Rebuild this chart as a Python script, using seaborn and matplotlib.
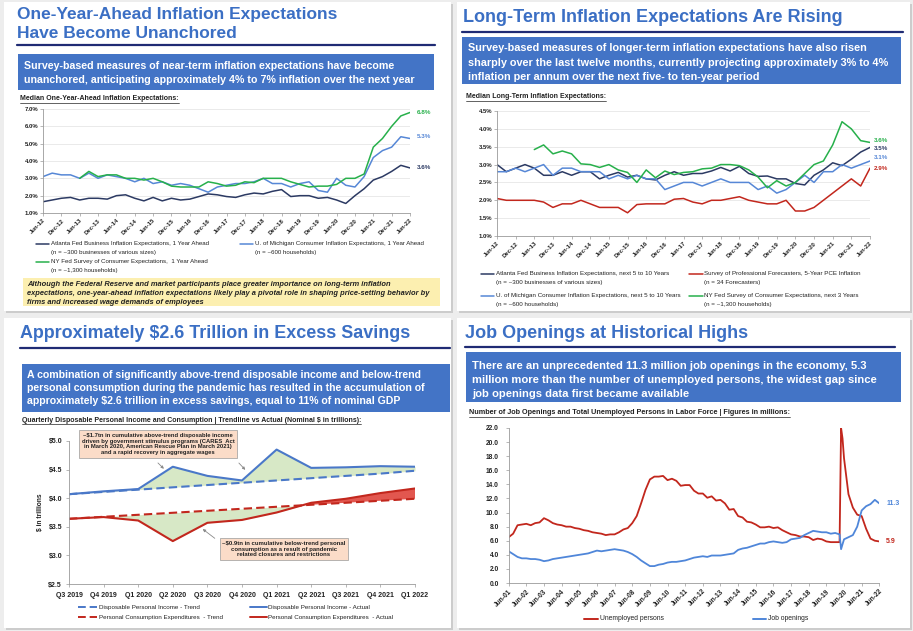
import numpy as np
import pandas as pd
import matplotlib.pyplot as plt
import matplotlib.ticker as mticker
from matplotlib.lines import Line2D
from matplotlib.patches import Rectangle
import seaborn as sns

sns.set_theme(style="white")
plt.rcParams['font.family'] = ['Liberation Sans', 'DejaVu Sans']

# ---------------------------------------------------------------
# Data
# ---------------------------------------------------------------
# quarterly points Jun-12 .. Jun-22, ticks every half year
half_year_ticks = ["Jun-12", "Dec-12", "Jun-13", "Dec-13", "Jun-14", "Dec-14", "Jun-15",
                   "Dec-15", "Jun-16", "Dec-16", "Jun-17", "Dec-17", "Jun-18", "Dec-18",
                   "Jun-19", "Dec-19", "Jun-20", "Dec-20", "Jun-21", "Dec-21", "Jun-22"]

# one-year-ahead expectations (%)
atl_1y = [1.65, 1.75, 1.85, 1.9, 1.75, 1.85, 1.85, 1.8, 2.0, 2.05, 1.85, 1.7, 1.9, 1.7,
          1.85, 1.75, 1.8, 1.95, 2.1, 2.05, 1.95, 1.9, 2.05, 2.15, 2.1, 2.25, 2.35, 1.95,
          2.0, 2.0, 1.85, 1.9, 1.75, 1.55, 2.0, 2.4, 2.9, 3.1, 3.4, 3.75, 3.6]
mich_1y = [3.1, 3.3, 3.2, 3.2, 3.0, 3.3, 3.0, 3.2, 3.1, 3.0, 2.8, 3.0, 2.7, 2.8, 2.6, 2.7,
           2.6, 2.4, 2.2, 2.5, 2.6, 2.7, 2.7, 2.8, 3.0, 2.7, 2.7, 2.5, 2.7, 2.8, 2.3, 2.2,
           3.0, 2.6, 2.5, 3.1, 4.2, 4.6, 4.8, 5.4, 5.3]
ny_1y = [np.nan] * 4 + [3.0, 3.4, 3.1, 3.2, 3.2, 3.0, 3.0, 2.9, 3.0, 2.8, 2.55, 2.5, 2.5,
                        2.5, 2.8, 2.7, 2.55, 2.6, 2.8, 2.75, 3.0, 3.0, 3.0, 2.8, 2.65, 2.5,
                        2.55, 2.55, 2.65, 3.0, 3.0, 3.25, 4.8, 5.3, 6.0, 6.6, 6.8]

# long-term expectations (%)
atl_lt = [3.0, 2.8, 2.9, 3.0, 2.9, 2.7, 2.7, 2.8, 2.7, 2.8, 2.8, 2.6, 2.7, 2.78, 2.65, 2.7,
          2.6, 2.57, 2.7, 2.8, 2.7, 2.75, 2.75, 2.82, 2.92, 2.82, 2.95, 2.75, 2.67, 2.68,
          2.6, 2.6, 2.47, 2.43, 2.7, 2.85, 3.05, 2.97, 3.15, 3.35, 3.48]
mich_lt = [2.8, 2.8, 2.9, 2.8, 2.9, 3.0, 2.7, 2.9, 2.9, 2.8, 2.8, 2.8, 2.6, 2.7, 2.6, 2.7,
           2.6, 2.6, 2.3, 2.4, 2.5, 2.5, 2.4, 2.5, 2.6, 2.5, 2.5, 2.5, 2.3, 2.4, 2.2, 2.3,
           2.5, 2.7, 2.5, 2.8, 2.8, 3.0, 2.9, 3.0, 3.1]
spf_lt = [2.05, 2.0, 2.0, 2.0, 2.0, 1.95, 1.8, 1.9, 1.9, 2.0, 1.9, 1.8, 1.8, 1.8, 1.65, 1.88,
          1.9, 1.9, 1.9, 2.03, 2.05, 1.95, 1.9, 2.0, 2.0, 2.05, 2.1, 2.0, 1.95, 1.9, 1.9,
          2.0, 1.7, 1.7, 1.8, 2.0, 2.2, 2.4, 2.6, 2.4, 2.9]
ny_3y = [np.nan] * 4 + [3.42, 3.55, 3.3, 3.38, 3.3, 3.02, 3.0, 2.92, 3.0, 2.85, 2.78, 2.5,
                        2.85, 2.63, 2.82, 2.72, 2.78, 2.8, 2.88, 2.9, 3.0, 3.0, 2.97, 2.85,
                        2.65, 2.35, 2.55, 2.4, 2.5, 2.75, 3.0, 3.1, 3.55, 4.2, 4.0, 3.67, 3.62]

# excess savings ($ trillions)
savings_quarters = ["Q3 2019", "Q4 2019", "Q1 2020", "Q2 2020", "Q3 2020", "Q4 2020",
                    "Q1 2021", "Q2 2021", "Q3 2021", "Q4 2021", "Q1 2022"]
dpi_actual = [4.07, 4.12, 4.16, 4.55, 4.39, 4.31, 4.85, 4.53, 4.54, 4.56, 4.55]
dpi_trend = [4.07, 4.11, 4.15, 4.19, 4.23, 4.27, 4.31, 4.35, 4.39, 4.43, 4.48]
pce_actual = [3.64, 3.67, 3.61, 3.25, 3.57, 3.62, 3.75, 3.92, 3.99, 4.09, 4.17]
pce_trend = [3.64, 3.675, 3.71, 3.745, 3.78, 3.815, 3.85, 3.885, 3.92, 3.955, 3.99]

# job openings vs unemployed (millions), quarterly plus the spring 2020 months
jobs_dates = pd.date_range("2001-06-01", "2022-06-01", freq="3MS").union(
    pd.to_datetime(["2020-04-01", "2020-05-01"]))
unemployed = [6.5, 7.0, 8.2,
              8.3, 8.4, 8.2, 8.5, 8.6, 9.2, 8.9, 8.5, 8.3, 8.2, 8.0, 8.0,
              7.8, 7.7, 7.5, 7.4, 7.2, 7.1, 7.0, 6.8, 6.9, 6.9, 7.2, 7.6,
              7.8, 8.5, 9.5, 11.3, 13.2, 14.7, 15.1, 15.1, 15.2, 14.6, 14.8, 14.5,
              13.8, 13.9, 13.9, 13.1, 12.7, 12.7, 12.1, 12.3, 11.7, 11.8, 11.3, 10.4,
              10.5, 9.5, 9.3, 8.7, 8.6, 8.3, 7.9, 7.9, 8.0, 7.8, 7.9, 7.5,
              7.2, 6.9, 6.8, 6.6, 6.6, 6.5, 6.1, 6.3, 6.2, 5.9, 5.8, 5.8,
              5.8, 22.0, 20.5, 17.7, 12.6, 10.7, 9.7, 9.5, 7.7, 6.3, 6.0, 5.9]
job_openings = [4.5, 4.1, 3.7,
                3.5, 3.5, 3.4, 3.4, 3.3, 3.1, 3.2, 3.4, 3.5, 3.6, 3.7, 3.8,
                3.9, 4.0, 4.1, 4.2, 4.4, 4.6, 4.5, 4.6, 4.7, 4.8, 4.7, 4.6,
                4.4, 4.1, 3.7, 3.2, 2.8, 2.4, 2.4, 2.6, 2.7, 2.9, 3.0, 3.0,
                3.1, 3.2, 3.4, 3.6, 3.7, 3.8, 3.7, 3.9, 3.9, 3.9, 4.0, 4.1,
                4.2, 4.7, 4.9, 5.0, 5.2, 5.4, 5.6, 5.6, 5.8, 5.9, 5.8, 5.7,
                5.8, 6.2, 6.3, 6.4, 6.8, 7.1, 7.4, 7.3, 7.2, 7.2, 7.0, 7.1,
                6.9, 4.8, 5.5, 6.2, 6.5, 6.8, 8.0, 10.3, 10.9, 11.2, 11.8, 11.3]

# ---------------------------------------------------------------
# Colours
# ---------------------------------------------------------------
TITLE_BLUE = "#3b6fc4"
BOX_BLUE = "#4374c6"
NAVY = "#1f2b74"
ATL = "#2c3a63"
MICH = "#5687d6"
GREEN = "#27b04b"
RED = "#c2271d"
JOB_BLUE = "#4f86d9"
TXT = "#222222"

W, H = 913, 631
fig = plt.figure(figsize=(W / 100, H / 100), dpi=100, facecolor="#ededed")


def fx(x):
    return x / W


def fy(y):
    return 1 - y / H


def rect(x0, y0, x1, y1):
    return [fx(x0), fy(y1), (x1 - x0) / W, (y1 - y0) / H]


def card(x0, y0, x1, y1):
    fig.add_artist(Rectangle((fx(x0 + 2), fy(y1 + 2)), (x1 - x0) / W, (y1 - y0) / H,
                             transform=fig.transFigure, fc="#cccccc", ec="none", zorder=-3))
    fig.add_artist(Rectangle((fx(x0), fy(y1)), (x1 - x0) / W, (y1 - y0) / H,
                             transform=fig.transFigure, fc="white", ec="none", zorder=-2))


def header(titles, tx, tys, rule, box, box_lines, bx, bys, box_size=7.6, title_size=12.8):
    for s, y in zip(titles, tys):
        fig.text(fx(tx), fy(y), s, color=TITLE_BLUE, fontsize=title_size, fontweight="bold",
                 va="center", ha="left")
    rx0, rx1, ry = rule
    fig.add_artist(Line2D([fx(rx0), fx(rx1)], [fy(ry), fy(ry)], color=NAVY, lw=1.6,
                          transform=fig.transFigure))
    x0, y0, x1, y1 = box
    fig.add_artist(Rectangle((fx(x0), fy(y1)), (x1 - x0) / W, (y1 - y0) / H,
                             transform=fig.transFigure, fc=BOX_BLUE, ec="none", zorder=-1))
    for s, y in zip(box_lines, bys):
        fig.text(fx(bx), fy(y), s, color="white", fontsize=box_size, fontweight="bold",
                 va="center", ha="left")


subtitles = []


def subtitle(x, y, s, size=5.0):
    subtitles.append(fig.text(fx(x), fy(y), s, fontsize=size, fontweight="bold",
                              color=TXT, va="center", ha="left"))


def legend_item(x0, x1, y, color, lines, ls="-", size=4.4, lw=1.1, gap=8.5):
    fig.add_artist(Line2D([fx(x0), fx(x1)], [fy(y), fy(y)], color=color, lw=lw, ls=ls,
                          transform=fig.transFigure))
    for i, s in enumerate(lines):
        fig.text(fx(x1 + 1.5), fy(y + i * gap), s, fontsize=size, color=TXT,
                 va="center", ha="left")


def style_axes(ax, size=4.3, grid=False):
    sns.despine(ax=ax)
    for side in ("left", "bottom"):
        ax.spines[side].set_color("#9a9a9a")
        ax.spines[side].set_linewidth(0.6)
    ax.set_facecolor("none")
    ax.tick_params(axis="both", labelsize=size, length=2, width=0.5, color="#9a9a9a",
                   pad=1.5, labelcolor=TXT, bottom=True, left=True)
    for lbl in ax.get_xticklabels() + ax.get_yticklabels():
        lbl.set_fontweight("bold")
    if grid:
        ax.yaxis.grid(True, color="#e2e2e2", lw=0.5)
        ax.set_axisbelow(True)
    ax.set_xlabel("")
    ax.set_ylabel("")


for c in [(4, 2, 451, 311), (457, 2, 910, 311), (4, 318, 451, 628), (457, 318, 910, 628)]:
    card(*c)

quarters = np.arange(len(atl_1y))

# ---------------------------------------------------------------
# Panel 1: one-year-ahead expectations
# ---------------------------------------------------------------
header(["One-Year-Ahead Inflation Expectations", "Have Become Unanchored"], 17, [14, 33],
       (17, 435, 45), (18, 54, 434, 90),
       ["Survey-based measures of near-term inflation expectations have become",
        "unanchored, anticipating approximately 4% to 7% inflation over the next year"],
       24, [66, 80], box_size=7.7, title_size=12.5)
subtitle(20, 99, "Median One-Year-Ahead Inflation Expectations:")

df1 = pd.DataFrame({
    "q": np.tile(quarters, 3),
    "value": atl_1y + mich_1y + ny_1y,
    "series": ["Atlanta"] * 41 + ["Michigan"] * 41 + ["NY Fed"] * 41,
})
pal1 = {"Atlanta": ATL, "Michigan": MICH, "NY Fed": GREEN}
ax1 = fig.add_axes(rect(43, 109, 410, 213))
sns.lineplot(data=df1.dropna(), x="q", y="value", hue="series", palette=pal1,
             estimator=None, linewidth=1.1, legend=False, ax=ax1)
ax1.set_xlim(0, 40)
ax1.set_ylim(1, 7)
ax1.set_yticks(np.arange(1, 7.5, 1))
ax1.yaxis.set_major_formatter(mticker.StrMethodFormatter("{x:.1f}%"))
ax1.set_xticks(np.arange(0, 41, 2))
ax1.set_xticklabels(half_year_ticks, rotation=45, ha="right", rotation_mode="anchor")
style_axes(ax1, grid=True)
for vals, col, dy in [(ny_1y, GREEN, 0), (mich_1y, MICH, 1.5), (atl_1y, ATL, 0)]:
    ax1.annotate(f"{vals[-1]:.1f}%", xy=(40, vals[-1]), xytext=(5, dy),
                 textcoords="offset points", color=col, fontsize=4.5, fontweight="bold",
                 va="center", annotation_clip=False)

legend_item(36, 49, 244, ATL, ["Atlanta Fed Business Inflation Expectations, 1 Year Ahead",
                               "(n = ~300 businesses of various sizes)"])
legend_item(240, 253, 244, MICH, ["U. of Michigan Consumer Inflation Expectations, 1 Year Ahead",
                                  "(n = ~600 households)"])
legend_item(36, 49, 262, GREEN, ["NY Fed Survey of Consumer Expectations,  1 Year Ahead",
                                 "(n = ~1,300 households)"])

fig.add_artist(Rectangle((fx(23), fy(306)), (440 - 23) / W, (306 - 278) / H,
                         transform=fig.transFigure, fc="#fcefb0", ec="none", zorder=-1))
for s, y in zip(["Although the Federal Reserve and market participants place greater importance on long-term inflation",
                 "expectations, one-year-ahead inflation expectations likely play a pivotal role in shaping price-setting behavior by",
                 "firms and increased wage demands of employees"], [284, 293.5, 302.5]):
    fig.text(fx(27), fy(y), s, fontsize=5.4, fontweight="bold", fontstyle="italic",
             color=TXT, va="center", ha="left")

# ---------------------------------------------------------------
# Panel 2: long-term expectations
# ---------------------------------------------------------------
header(["Long-Term Inflation Expectations Are Rising"], 463, [17],
       (462, 903, 32), (462, 37, 901, 84),
       ["Survey-based measures of longer-term inflation expectations have also risen",
        "sharply over the last twelve months, currently projecting approximately 3% to 4%",
        "inflation per annum over the next five- to ten-year period"],
       468, [48, 62.5, 77], box_size=7.8, title_size=13)
subtitle(466, 97, "Median Long-Term Inflation Expectations:")

df2 = pd.DataFrame({
    "q": np.tile(quarters, 4),
    "value": atl_lt + mich_lt + spf_lt + ny_3y,
    "series": ["Atlanta"] * 41 + ["Michigan"] * 41 + ["SPF"] * 41 + ["NY Fed"] * 41,
})
pal2 = {"Atlanta": ATL, "Michigan": MICH, "SPF": RED, "NY Fed": GREEN}
ax2 = fig.add_axes(rect(497, 111, 870, 236))
sns.lineplot(data=df2.dropna(), x="q", y="value", hue="series", palette=pal2,
             estimator=None, linewidth=1.1, legend=False, ax=ax2)
ax2.set_xlim(0, 40)
ax2.set_ylim(1, 4.5)
ax2.set_yticks(np.arange(1, 4.6, 0.5))
ax2.yaxis.set_major_formatter(mticker.StrMethodFormatter("{x:.1f}%"))
ax2.set_xticks(np.arange(0, 41, 2))
ax2.set_xticklabels(half_year_ticks, rotation=45, ha="right", rotation_mode="anchor")
style_axes(ax2, grid=True)
for vals, col, dy in [(ny_3y, GREEN, 1.5), (atl_lt, ATL, -1.0), (mich_lt, MICH, 2.5), (spf_lt, RED, -0.5)]:
    ax2.annotate(f"{vals[-1]:.1f}%", xy=(40, vals[-1]), xytext=(3, dy),
                 textcoords="offset points", color=col, fontsize=4.5, fontweight="bold",
                 va="center", annotation_clip=False)

legend_item(481, 494, 274, ATL, ["Atlanta Fed Business Inflation Expectations, next 5 to 10 Years",
                                 "(n = ~300 businesses of various sizes)"], size=4.5)
legend_item(689, 703, 274, RED, ["Survey of Professional Forecasters, 5-Year PCE Inflation",
                                 "(n = 34 Forecasters)"], size=4.5)
legend_item(481, 494, 296, MICH, ["U. of Michigan Consumer Inflation Expectations, next 5 to 10 Years",
                                  "(n = ~600 households)"], size=4.5)
legend_item(689, 703, 296, GREEN, ["NY Fed Survey of Consumer Expectations, next 3 Years",
                                   "(n = ~1,300 households)"], size=4.5)

# ---------------------------------------------------------------
# Panel 3: excess savings
# ---------------------------------------------------------------
header([r"Approximately \$2.6 Trillion in Excess Savings"], 20, [333],
       (20, 450, 348), (22, 364, 450, 412),
       ["A combination of significantly above-trend disposable income and below-trend",
        "personal consumption during the pandemic has resulted in the accumulation of",
        r"approximately \$2.6 trillion in excess savings, equal to 11% of nominal GDP"],
       27, [375, 388, 400.5], box_size=7.55, title_size=12.9)
subtitle(22, 420, r"Quarterly Disposable Personal Income and Consumption | Trendline vs Actual (Nominal \$ in trillions):",
         size=5.0)

qi = np.arange(len(savings_quarters))
df3 = pd.DataFrame({
    "q": np.tile(qi, 4),
    "value": dpi_trend + dpi_actual + pce_trend + pce_actual,
    "measure": ["DPI"] * 22 + ["PCE"] * 22,
    "kind": ["Trend"] * 11 + ["Actual"] * 11 + ["Trend"] * 11 + ["Actual"] * 11,
})
ax3 = fig.add_axes(rect(69, 441, 415, 584))
d_a, d_t = np.array(dpi_actual), np.array(dpi_trend)
p_a, p_t = np.array(pce_actual), np.array(pce_trend)
ax3.fill_between(qi, d_a, d_t, where=d_a >= d_t, interpolate=True, color="#d7e8c6", lw=0, zorder=1)
ax3.fill_between(qi, p_a, p_t, where=p_a <= p_t, interpolate=True, color="#d7e8c6", lw=0, zorder=1)
ax3.fill_between(qi, p_a, p_t, where=p_a >= p_t, interpolate=True, color="#e2574f", lw=0, zorder=1)
sns.lineplot(data=df3, x="q", y="value", hue="measure", style="kind",
             palette={"DPI": "#4a78c8", "PCE": RED},
             dashes={"Trend": (4, 2), "Actual": ""}, estimator=None,
             linewidth=1.5, legend=False, ax=ax3)
ax3.set_xlim(0, 10)
ax3.set_ylim(2.5, 5.0)
ax3.set_yticks(np.arange(2.5, 5.01, 0.5))
ax3.yaxis.set_major_formatter(mticker.StrMethodFormatter(r"\${x:.1f}"))
ax3.set_xticks(qi)
ax3.set_xticklabels(savings_quarters)
style_axes(ax3, size=5.0)
ax3.tick_params(axis="x", pad=4)
ax3.tick_params(axis="y", pad=3)
fig.text(fx(40), fy(512), r"\$ in trillions", rotation=90, fontsize=4.8, fontweight="bold",
         color=TXT, ha="center", va="center")

box_style = dict(boxstyle="square,pad=0.45", fc="#fbdcc8", ec="#9a9a9a", lw=0.5)
fig.text(fx(158), fy(444),
         "~\\$1.7tn in cumulative above-trend disposable income\n"
         "driven by government stimulus programs (CARES  Act\n"
         "in March 2020, American Rescue Plan in March 2021)\n"
         "and a rapid recovery in aggregate wages",
         fontsize=4.2, fontweight="bold", color=TXT, ha="center", va="center",
         linespacing=1.15, bbox=box_style)
fig.text(fx(284), fy(549),
         "~\\$0.9tn in cumulative below-trend personal\n"
         "consumption as a result of pandemic\n"
         "related closures and restrictions",
         fontsize=4.3, fontweight="bold", color=TXT, ha="center", va="center",
         linespacing=1.2, bbox=box_style)
arrow = dict(arrowstyle="-|>", color="#8a8a8a", lw=0.6, mutation_scale=4)
ax3.annotate("", xy=(2.8, 4.48), xytext=(fx(156), fy(461)), textcoords="figure fraction", arrowprops=arrow)
ax3.annotate("", xy=(5.15, 4.46), xytext=(fx(237), fy(461)), textcoords="figure fraction", arrowprops=arrow)
ax3.annotate("", xy=(3.8, 3.49), xytext=(fx(217), fy(540)), textcoords="figure fraction", arrowprops=arrow)

legend_item(78, 97, 607, "#4a78c8", ["Disposable Personal Income - Trend"], ls=(0, (4, 2)), size=4.5, lw=1.4)
legend_item(250, 267, 607, "#4a78c8", ["Disposable Personal Income - Actual"], size=4.5, lw=1.4)
legend_item(78, 97, 617, RED, ["Personal Consumption Expenditures  - Trend"], ls=(0, (4, 2)), size=4.5, lw=1.4)
legend_item(250, 267, 617, RED, ["Personal Consumption Expenditures  - Actual"], size=4.5, lw=1.4)

# ---------------------------------------------------------------
# Panel 4: job openings vs unemployed
# ---------------------------------------------------------------
header(["Job Openings at Historical Highs"], 465, [333],
       (465, 895, 347), (466, 352, 901, 402),
       ["There are an unprecedented 11.3 million job openings in the economy, 5.3",
        "million more than the number of unemployed persons, the widest gap since",
        "job openings data first became available"],
       472, [366, 380, 394], box_size=8.1, title_size=13)
subtitle(469, 413, "Number of Job Openings and Total Unemployed Persons in Labor Force | Figures in millions:",
         size=5.2)

df4 = pd.DataFrame({
    "date": list(jobs_dates) * 2,
    "value": unemployed + job_openings,
    "series": ["Unemployed persons"] * len(unemployed) + ["Job openings"] * len(job_openings),
})
ax4 = fig.add_axes(rect(508.7, 428, 879.3, 583))
sns.lineplot(data=df4, x="date", y="value", hue="series",
             palette={"Unemployed persons": RED, "Job openings": JOB_BLUE},
             estimator=None, linewidth=1.3, legend=False, ax=ax4)
ax4.set_xlim(jobs_dates[0], jobs_dates[-1])
ax4.set_ylim(0, 22)
ax4.set_yticks(np.arange(0, 22.1, 2))
ax4.yaxis.set_major_formatter(mticker.StrMethodFormatter("{x:.1f}"))
june_ticks = pd.date_range("2001-06-01", "2022-06-01", freq="12MS")
ax4.set_xticks(june_ticks)
ax4.set_xticklabels([d.strftime("%b-%y") for d in june_ticks], rotation=45, ha="right",
                    rotation_mode="anchor")
style_axes(ax4, size=4.8)
ax4.tick_params(axis="y", pad=5)
for vals, col in [(job_openings, JOB_BLUE), (unemployed, RED)]:
    ax4.annotate(f"{vals[-1]:.1f}", xy=(jobs_dates[-1], vals[-1]), xytext=(5, 0),
                 textcoords="offset points", color=col, fontsize=5.0, fontweight="bold",
                 va="center", annotation_clip=False)

legend_item(584, 598, 619, RED, ["Unemployed persons"], size=4.9, lw=1.4)
legend_item(753, 766, 619, JOB_BLUE, ["Job openings"], size=4.9, lw=1.4)

# underline the small chart captions
renderer = fig.canvas.get_renderer()
for t in subtitles:
    bb = t.get_window_extent(renderer)
    fig.add_artist(Line2D([bb.x0 / fig.bbox.width, bb.x1 / fig.bbox.width],
                          [(bb.y0 - 0.3) / fig.bbox.height] * 2, color=TXT, lw=0.5,
                          transform=fig.transFigure))

fig.savefig("out.png", dpi=100, facecolor=fig.get_facecolor())
